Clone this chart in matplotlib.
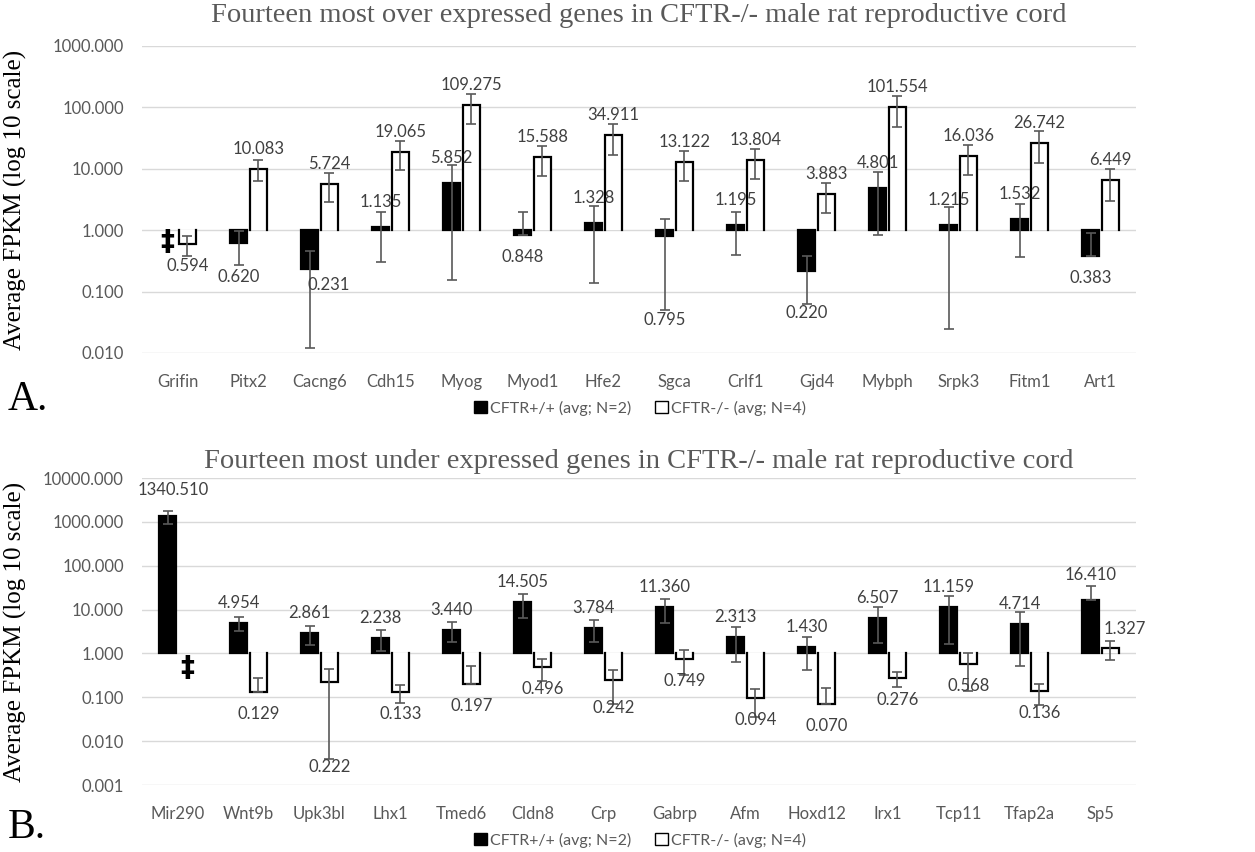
import numpy as np
import matplotlib
matplotlib.use("Agg")
import matplotlib.pyplot as plt
from matplotlib.patches import Patch
from matplotlib.ticker import FixedLocator, FixedFormatter, NullLocator

nan = np.nan

# ---------------- data ----------------
genes_a = ['Grifin', 'Pitx2', 'Cacng6', 'Cdh15', 'Myog', 'Myod1', 'Hfe2', 'Sgca',
           'Crlf1', 'Gjd4', 'Mybph', 'Srpk3', 'Fitm1', 'Art1']
wt_a = [nan, 0.620, 0.231, 1.135, 5.852, 0.848, 1.328, 0.795, 1.195, 0.220, 4.801, 1.215, 1.532, 0.383]
ko_a = [0.594, 10.083, 5.724, 19.065, 109.275, 15.588, 34.911, 13.122, 13.804, 3.883, 101.554, 16.036, 26.742, 6.449]
wt_a_err = [nan, 0.345, 0.219, 0.83, 5.7, 1.14, 1.19, 0.744, 0.8, 0.156, 3.95, 1.19, 1.16, 0.533]
ko_a_err = [0.22, 3.8, 2.8, 9.5, 55.0, 8.0, 18.0, 6.7, 7.0, 2.0, 53.0, 8.0, 14.5, 3.5]

genes_b = ['Mir290', 'Wnt9b', 'Upk3bl', 'Lhx1', 'Tmed6', 'Cldn8', 'Crp', 'Gabrp', 'Afm',
           'Hoxd12', 'Irx1', 'Tcp11', 'Tfap2a', 'Sp5']
wt_b = [1340.510, 4.954, 2.861, 2.238, 3.440, 14.505, 3.784, 11.360, 2.313, 1.430, 6.507, 11.159, 4.714, 16.410]
ko_b = [nan, 0.129, 0.222, 0.133, 0.197, 0.496, 0.242, 0.749, 0.094, 0.070, 0.276, 0.568, 0.136, 1.327]
wt_b_err = [470.0, 1.7, 1.3, 1.1, 1.65, 8.0, 2.0, 6.5, 1.67, 1.0, 4.8, 9.5, 4.2, 17.2]
ko_b_err = [nan, 0.143, 0.218, 0.057, 0.316, 0.26, 0.172, 0.42, 0.058, 0.096, 0.1, 0.43, 0.068, 0.6]

ticks_a = [0.01, 0.1, 1, 10, 100, 1000]
ticks_b = [0.001, 0.01, 0.1, 1, 10, 100, 1000, 10000]

title_a = "Fourteen most over expressed genes in CFTR-/- male rat reproductive cord"
title_b = "Fourteen most under expressed genes in CFTR-/- male rat reproductive cord"
ylabel = "Average FPKM (log 10 scale)"
legend_labels = ["CFTR+/+ (avg; N=2)", "CFTR-/- (avg; N=4)"]
missing_mark = "\u2021"

# label offset tweaks (series 0 = CFTR+/+, 1 = CFTR-/-): (dx in category units, dy in px)
tweaks_a = {(1, 0): (0, -34), (2, 0): (0.27, -16), (7, 0): (0, -84), (9, 0): (0, -42)}
tweaks_b = {(0, 0): (0.08, 26), (2, 1): (0, -85), (6, 1): (0, -28), (13, 0): (0, 25), (13, 1): (0.2, 19)}

SANS = ['Lato', 'DejaVu Sans']
SERIF = ['Liberation Serif', 'DejaVu Serif']
GREY = '#595959'
LBL = '#404040'

W, H = 1255, 852
fig = plt.figure(figsize=(W / 100, H / 100), dpi=100)

PX = 0.72  # points per pixel at 100 dpi


def panel(rect, genes, wt, ko, wt_err, ko_err, ticks, title, tweaks, up_off_wt,
          title_pad, legend_y, letter, letter_y, mark_val):
    ax = fig.add_axes(rect)
    ax.set_yscale('log')
    ax.set_ylim(ticks[0], ticks[-1])
    n = len(genes)
    ax.set_xlim(-0.5, n - 0.5)
    x = np.arange(n)
    w = 0.23
    off = 0.14
    for i in range(n):
        for s, (vals, errs) in enumerate([(wt, wt_err), (ko, ko_err)]):
            v = vals[i]
            xi = x[i] + (-off if s == 0 else off)
            if np.isnan(v):
                ax.text(xi, mark_val, missing_mark, ha='center', va='center', fontsize=20,
                        fontweight='bold', family=['DejaVu Sans'], color='black', zorder=5)
                continue
            if s == 0:
                ax.bar(xi, v - 1, bottom=1, width=w, color='black', edgecolor='black',
                       linewidth=1.6, zorder=3)
            else:
                bars = ax.bar(xi, v - 1, bottom=1, width=w, color='white',
                              edgecolor='none', zorder=3)
                r = bars[0]
                x0, x1 = r.get_x(), r.get_x() + r.get_width()
                ax.plot([x0, x0, x1, x1], [1, v, v, 1], color='black', lw=1.6,
                        solid_joinstyle='miter', zorder=3.5)
            e = errs[i]
            lo = e if v - e > 0 else 0.0
            ax.errorbar(xi, v, yerr=[[lo], [e]], fmt='none', ecolor=GREY,
                        elinewidth=1.2, capsize=3.3, capthick=1.2, zorder=4)
            if v >= 1:
                dy = up_off_wt if s == 0 else 20
            else:
                dy = -22
            dx = 0.0
            if (i, s) in tweaks:
                dx, dy = tweaks[(i, s)]
            ax.annotate(f"{v:.3f}", xy=(xi + dx, v), xytext=(0, dy * PX),
                        textcoords='offset points', ha='center', va='center',
                        fontsize=12, color=LBL, family=SANS, zorder=6)
    # axes styling
    for sp in ax.spines.values():
        sp.set_visible(False)
    ax.yaxis.set_major_locator(FixedLocator(ticks))
    ax.yaxis.set_minor_locator(NullLocator())
    ax.yaxis.set_major_formatter(FixedFormatter([f"{t:.3f}" for t in ticks]))
    ax.set_xticks(x)
    ax.set_xticklabels(genes)
    ax.tick_params(axis='both', length=0, labelsize=12, labelcolor=GREY)
    ax.tick_params(axis='x', pad=15)
    ax.tick_params(axis='y', pad=13)
    for lab in ax.get_xticklabels() + ax.get_yticklabels():
        lab.set_family(SANS)
    ax.grid(axis='y', color='#d9d9d9', linewidth=1.0, zorder=0)
    ax.set_axisbelow(True)
    ax.set_title(title, family=SERIF, fontsize=20.5, color=GREY, pad=title_pad)
    fig.text(15 / W, rect[1] + rect[3] / 2, ylabel, rotation=90, family=SERIF,
             fontsize=18, color='black', ha='center', va='center')
    handles = [Patch(facecolor='black', edgecolor='black'),
               Patch(facecolor='white', edgecolor='black')]
    fig.legend(handles, legend_labels, loc='center', bbox_to_anchor=(0.51, legend_y),
               ncol=2, frameon=False, prop={'family': SANS, 'size': 11.5},
               labelcolor=GREY, handlelength=0.8, handleheight=0.8, handletextpad=0.2,
               columnspacing=1.5)
    fig.text(8 / W, letter_y, letter, family=SERIF, fontsize=30, color='black',
             ha='left', va='center')
    return ax


left = 142 / W
width = (1136 - 142) / W
panel([left, 1 - 353 / H, width, 307 / H], genes_a, wt_a, ko_a, wt_a_err, ko_a_err, ticks_a,
      title_a, tweaks_a, 25, 17, 1 - 408 / H, "A.", 1 - 400 / H, 0.64)
panel([left, 1 - 785 / H, width, 307 / H], genes_b, wt_b, ko_b, wt_b_err, ko_b_err, ticks_b,
      title_b, tweaks_b, 20, 7, 1 - 840 / H, "B.", 1 - 828 / H, 0.46)

fig.savefig("out.png", dpi=100, facecolor='white')
